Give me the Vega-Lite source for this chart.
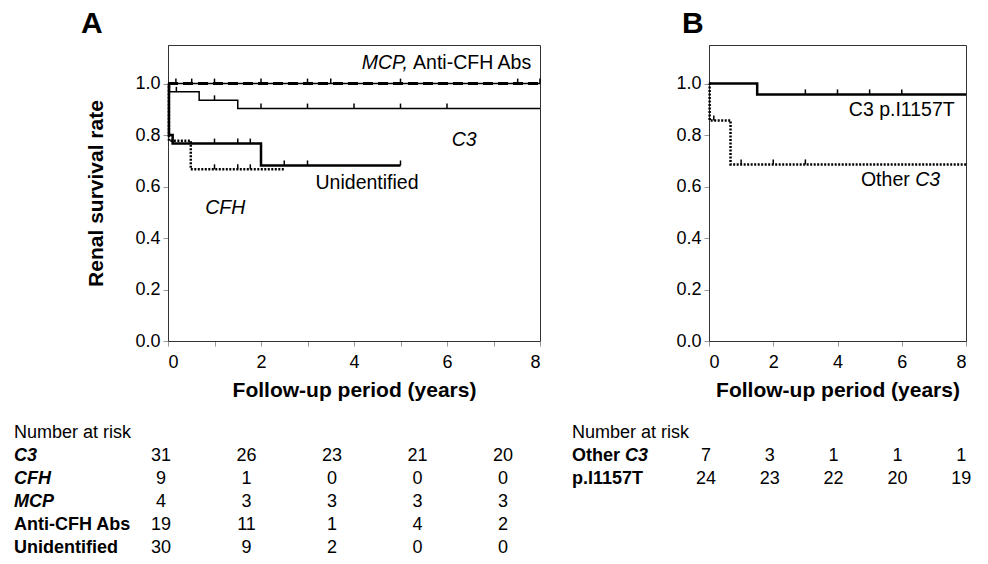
{
  "$schema": "https://vega.github.io/schema/vega-lite/v6.json",
  "padding": {"left": 13, "top": 8, "right": 0, "bottom": 0},
  "background": "white",
  "config": {
    "font": "Liberation Sans",
    "view": {"stroke": "#333", "strokeWidth": 1},
    "axis": {
      "grid": false, "domainColor": "#333", "tickColor": "#999", "tickSize": 5,
      "labelFontSize": 18, "labelColor": "#000", "labelPadding": 3,
      "titleFontSize": 21, "titleFontWeight": "bold", "titleColor": "#000"
    },
    "text": {"font": "Liberation Sans", "color": "#000"}
  },
  "datasets": {
    "kmA": [
      {"series": "C3", "t": 0, "s": 1}, {"series": "C3", "t": 0.03, "s": 0.968}, {"series": "C3", "t": 0.67, "s": 0.935}, {"series": "C3", "t": 1.5, "s": 0.903}, {"series": "C3", "t": 8, "s": 0.903},
      {"series": "CFH", "t": 0, "s": 1}, {"series": "CFH", "t": 0.02, "s": 0.778}, {"series": "CFH", "t": 0.49, "s": 0.667}, {"series": "CFH", "t": 2.5, "s": 0.667},
      {"series": "MCP", "t": 0, "s": 1}, {"series": "MCP", "t": 8, "s": 1},
      {"series": "Anti-CFH Abs", "t": 0, "s": 1}, {"series": "Anti-CFH Abs", "t": 8, "s": 1},
      {"series": "Unidentified", "t": 0, "s": 1}, {"series": "Unidentified", "t": 0.02, "s": 0.8}, {"series": "Unidentified", "t": 0.1, "s": 0.767}, {"series": "Unidentified", "t": 2.0, "s": 0.682}, {"series": "Unidentified", "t": 5.0, "s": 0.682}
    ],
    "censorA": [
      {"series": "Anti-CFH Abs", "t": 0.17, "s": 1}, {"series": "Anti-CFH Abs", "t": 0.51, "s": 1}, {"series": "Anti-CFH Abs", "t": 1.0, "s": 1}, {"series": "Anti-CFH Abs", "t": 2.0, "s": 1}, {"series": "Anti-CFH Abs", "t": 3.0, "s": 1}, {"series": "Anti-CFH Abs", "t": 3.5, "s": 1}, {"series": "Anti-CFH Abs", "t": 5.0, "s": 1}, {"series": "Anti-CFH Abs", "t": 7.52, "s": 1}, {"series": "Anti-CFH Abs", "t": 8.0, "s": 1},
      {"series": "C3", "t": 0.18, "s": 0.968}, {"series": "C3", "t": 1.0, "s": 0.935}, {"series": "C3", "t": 2.0, "s": 0.903}, {"series": "C3", "t": 3.0, "s": 0.903}, {"series": "C3", "t": 4.0, "s": 0.903}, {"series": "C3", "t": 5.0, "s": 0.903}, {"series": "C3", "t": 6.0, "s": 0.903},
      {"series": "Unidentified", "t": 1.0, "s": 0.767}, {"series": "Unidentified", "t": 1.5, "s": 0.767}, {"series": "Unidentified", "t": 1.77, "s": 0.767}, {"series": "Unidentified", "t": 2.5, "s": 0.682}, {"series": "Unidentified", "t": 3.0, "s": 0.682}, {"series": "Unidentified", "t": 5.0, "s": 0.682},
      {"series": "CFH", "t": 1.0, "s": 0.667}, {"series": "CFH", "t": 1.5, "s": 0.667}, {"series": "CFH", "t": 1.77, "s": 0.667}
    ],
    "kmB": [
      {"series": "C3 p.I1157T", "t": 0, "s": 1}, {"series": "C3 p.I1157T", "t": 1.5, "s": 0.958}, {"series": "C3 p.I1157T", "t": 8, "s": 0.958},
      {"series": "Other C3", "t": 0, "s": 1}, {"series": "Other C3", "t": 0.02, "s": 0.857}, {"series": "Other C3", "t": 0.67, "s": 0.686}, {"series": "Other C3", "t": 8, "s": 0.686}
    ],
    "censorB": [
      {"series": "C3 p.I1157T", "t": 3.0, "s": 0.958}, {"series": "C3 p.I1157T", "t": 4.0, "s": 0.958}, {"series": "C3 p.I1157T", "t": 5.0, "s": 0.958}, {"series": "C3 p.I1157T", "t": 6.0, "s": 0.958},
      {"series": "Other C3", "t": 0.15, "s": 0.857}, {"series": "Other C3", "t": 1.0, "s": 0.686}, {"series": "Other C3", "t": 2.0, "s": 0.686}, {"series": "Other C3", "t": 3.0, "s": 0.686}
    ],
    "riskA": [
      {"group": "C3", "t": 0, "n": 31}, {"group": "C3", "t": 2, "n": 26}, {"group": "C3", "t": 4, "n": 23}, {"group": "C3", "t": 6, "n": 21}, {"group": "C3", "t": 8, "n": 20},
      {"group": "CFH", "t": 0, "n": 9}, {"group": "CFH", "t": 2, "n": 1}, {"group": "CFH", "t": 4, "n": 0}, {"group": "CFH", "t": 6, "n": 0}, {"group": "CFH", "t": 8, "n": 0},
      {"group": "MCP", "t": 0, "n": 4}, {"group": "MCP", "t": 2, "n": 3}, {"group": "MCP", "t": 4, "n": 3}, {"group": "MCP", "t": 6, "n": 3}, {"group": "MCP", "t": 8, "n": 3},
      {"group": "Anti-CFH Abs", "t": 0, "n": 19}, {"group": "Anti-CFH Abs", "t": 2, "n": 11}, {"group": "Anti-CFH Abs", "t": 4, "n": 1}, {"group": "Anti-CFH Abs", "t": 6, "n": 4}, {"group": "Anti-CFH Abs", "t": 8, "n": 2},
      {"group": "Unidentified", "t": 0, "n": 30}, {"group": "Unidentified", "t": 2, "n": 9}, {"group": "Unidentified", "t": 4, "n": 2}, {"group": "Unidentified", "t": 6, "n": 0}, {"group": "Unidentified", "t": 8, "n": 0}
    ],
    "riskB": [
      {"group": "Other C3", "t": 0, "n": 7}, {"group": "Other C3", "t": 2, "n": 3}, {"group": "Other C3", "t": 4, "n": 1}, {"group": "Other C3", "t": 6, "n": 1}, {"group": "Other C3", "t": 8, "n": 1},
      {"group": "p.I1157T", "t": 0, "n": 24}, {"group": "p.I1157T", "t": 2, "n": 23}, {"group": "p.I1157T", "t": 4, "n": 22}, {"group": "p.I1157T", "t": 6, "n": 20}, {"group": "p.I1157T", "t": 8, "n": 19}
    ],
    "groupsA": [{"group": "Number at risk"}, {"group": "C3"}, {"group": "CFH"}, {"group": "MCP"}, {"group": "Anti-CFH Abs"}, {"group": "Unidentified"}],
    "groupsB": [{"group": "Number at risk"}, {"group": "Other C3"}, {"group": "p.I1157T"}],
    "notes": [{"label": "MCP,"}, {"label": "Anti-CFH Abs"}, {"label": "C3"}, {"label": "Unidentified"}, {"label": "CFH"}, {"label": "C3 p.I1157T"}, {"label": "Other"}]
  },
  "hconcat": [
    {
      "spacing": 20,
      "vconcat": [
        {
          "width": 372, "height": 296,
          "title": {"text": "A", "anchor": "start", "frame": "group", "dx": -87, "fontSize": 30, "fontWeight": "bold", "offset": 6, "color": "#000"},
          "layer": [
            {"data": {"name": "kmA"}, "transform": [{"filter": "datum.series == 'MCP'"}], "mark": {"type": "line", "interpolate": "step-after", "color": "#000", "strokeWidth": 1.5},
             "encoding": {
              "x": {"field": "t", "type": "quantitative", "scale": {"domain": [0, 8], "nice": false},
                "axis": {"title": "Follow-up period (years)", "values": [0, 1, 2, 3, 4, 5, 6, 7, 8], "labelExpr": "datum.value % 2 == 0 ? datum.label : ''", "labelPadding": 7, "titlePadding": 8}},
              "y": {"field": "s", "type": "quantitative", "scale": {"domain": [0, 1.15], "nice": false},
                "axis": {"title": "Renal survival rate", "values": [0, 0.1, 0.2, 0.3, 0.4, 0.5, 0.6, 0.7, 0.8, 0.9, 1.0, 1.1], "labelExpr": "(abs(datum.value*10 - round(datum.value*5)*2) < 0.01 && datum.value < 1.05) ? format(datum.value, '.1f') : ''", "titlePadding": 28}}
             }},
            {"data": {"name": "kmA"}, "transform": [{"filter": "datum.series == 'Anti-CFH Abs'"}], "mark": {"type": "line", "interpolate": "step-after", "color": "#000", "strokeWidth": 3, "strokeDash": [10, 5]},
             "encoding": {"x": {"field": "t", "type": "quantitative"}, "y": {"field": "s", "type": "quantitative"}}},
            {"data": {"name": "kmA"}, "transform": [{"filter": "datum.series == 'C3'"}], "mark": {"type": "line", "interpolate": "step-after", "color": "#000", "strokeWidth": 1.5},
             "encoding": {"x": {"field": "t", "type": "quantitative"}, "y": {"field": "s", "type": "quantitative"}}},
            {"data": {"name": "kmA"}, "transform": [{"filter": "datum.series == 'Unidentified'"}], "mark": {"type": "line", "interpolate": "step-after", "color": "#000", "strokeWidth": 2.5},
             "encoding": {"x": {"field": "t", "type": "quantitative"}, "y": {"field": "s", "type": "quantitative"}}},
            {"data": {"name": "kmA"}, "transform": [{"filter": "datum.series == 'CFH'"}], "mark": {"type": "line", "interpolate": "step-after", "color": "#000", "strokeWidth": 2.5, "strokeDash": [2, 1.5]},
             "encoding": {"x": {"field": "t", "type": "quantitative"}, "y": {"field": "s", "type": "quantitative"}}},
            {"data": {"name": "censorA"}, "mark": {"type": "point", "shape": "M0,-1L0,0", "size": 100, "filled": false, "stroke": "#000", "strokeWidth": 1.5, "opacity": 1},
             "encoding": {"x": {"field": "t", "type": "quantitative"}, "y": {"field": "s", "type": "quantitative"}}},
            {"data": {"name": "notes"}, "transform": [{"filter": "datum.label == 'MCP,'"}], "mark": {"type": "text", "align": "right", "baseline": "middle", "fontSize": 19.5, "fontStyle": "italic"},
             "encoding": {"x": {"datum": 5.16, "type": "quantitative"}, "y": {"datum": 1.08, "type": "quantitative"}, "text": {"field": "label"}}},
            {"data": {"name": "notes"}, "transform": [{"filter": "datum.label == 'Anti-CFH Abs'"}], "mark": {"type": "text", "align": "left", "baseline": "middle", "fontSize": 19.5},
             "encoding": {"x": {"datum": 5.27, "type": "quantitative"}, "y": {"datum": 1.08, "type": "quantitative"}, "text": {"field": "label"}}},
            {"data": {"name": "notes"}, "transform": [{"filter": "datum.label == 'C3'"}], "mark": {"type": "text", "align": "center", "baseline": "middle", "fontSize": 19.5, "fontStyle": "italic"},
             "encoding": {"x": {"datum": 6.37, "type": "quantitative"}, "y": {"datum": 0.78, "type": "quantitative"}, "text": {"field": "label"}}},
            {"data": {"name": "notes"}, "transform": [{"filter": "datum.label == 'Unidentified'"}], "mark": {"type": "text", "align": "center", "baseline": "middle", "fontSize": 19.5},
             "encoding": {"x": {"datum": 4.28, "type": "quantitative"}, "y": {"datum": 0.614, "type": "quantitative"}, "text": {"field": "label"}}},
            {"data": {"name": "notes"}, "transform": [{"filter": "datum.label == 'CFH'"}], "mark": {"type": "text", "align": "center", "baseline": "middle", "fontSize": 19.5, "fontStyle": "italic"},
             "encoding": {"x": {"datum": 1.23, "type": "quantitative"}, "y": {"datum": 0.517, "type": "quantitative"}, "text": {"field": "label"}}}
          ]
        },
        {
          "width": 372, "height": 138,
          "view": {"stroke": null},
          "encoding": {
            "y": {"field": "group", "type": "nominal", "scale": {"type": "point", "padding": 0.5, "domain": ["Number at risk", "C3", "CFH", "MCP", "Anti-CFH Abs", "Unidentified"]}, "axis": null}
          },
          "layer": [
            {"data": {"name": "groupsA"}, "transform": [{"filter": "datum.group == 'Number at risk'"}], "mark": {"type": "text", "align": "left", "baseline": "middle", "fontSize": 18}, "encoding": {"x": {"datum": -3.44, "type": "quantitative", "scale": {"domain": [0.164, 8.866], "nice": false, "zero": false}, "axis": null}, "text": {"field": "group"}}},
            {"data": {"name": "groupsA"}, "transform": [{"filter": "indexof(['C3','CFH','MCP'], datum.group) >= 0"}], "mark": {"type": "text", "align": "left", "baseline": "middle", "fontSize": 18, "fontWeight": "bold", "fontStyle": "italic"}, "encoding": {"x": {"datum": -3.44, "type": "quantitative"}, "text": {"field": "group"}}},
            {"data": {"name": "groupsA"}, "transform": [{"filter": "indexof(['Anti-CFH Abs','Unidentified'], datum.group) >= 0"}], "mark": {"type": "text", "align": "left", "baseline": "middle", "fontSize": 18, "fontWeight": "bold"}, "encoding": {"x": {"datum": -3.44, "type": "quantitative"}, "text": {"field": "group"}}},
            {"data": {"name": "riskA"}, "mark": {"type": "text", "align": "center", "baseline": "middle", "fontSize": 18}, "encoding": {"x": {"field": "t", "type": "quantitative"}, "text": {"field": "n"}}}
          ]
        }
      ]
    },
    {
      "spacing": 20,
      "vconcat": [
        {
          "width": 257, "height": 296,
          "title": {"text": "B", "anchor": "start", "frame": "group", "dx": -27, "fontSize": 30, "fontWeight": "bold", "offset": 6, "color": "#000"},
          "layer": [
            {"data": {"name": "kmB"}, "transform": [{"filter": "datum.series == 'C3 p.I1157T'"}], "mark": {"type": "line", "interpolate": "step-after", "color": "#000", "strokeWidth": 2.5},
             "encoding": {
              "x": {"field": "t", "type": "quantitative", "scale": {"domain": [0, 8], "nice": false},
                "axis": {"title": "Follow-up period (years)", "values": [0, 1, 2, 3, 4, 5, 6, 7, 8], "labelExpr": "datum.value % 2 == 0 ? datum.label : ''", "labelPadding": 7, "titlePadding": 8}},
              "y": {"field": "s", "type": "quantitative", "scale": {"domain": [0, 1.15], "nice": false},
                "axis": {"title": null, "values": [0, 0.1, 0.2, 0.3, 0.4, 0.5, 0.6, 0.7, 0.8, 0.9, 1.0, 1.1], "labelExpr": "(abs(datum.value*10 - round(datum.value*5)*2) < 0.01 && datum.value < 1.05) ? format(datum.value, '.1f') : ''"}}
             }},
            {"data": {"name": "kmB"}, "transform": [{"filter": "datum.series == 'Other C3'"}], "mark": {"type": "line", "interpolate": "step-after", "color": "#000", "strokeWidth": 2.5, "strokeDash": [2, 1.5]},
             "encoding": {"x": {"field": "t", "type": "quantitative"}, "y": {"field": "s", "type": "quantitative"}}},
            {"data": {"name": "censorB"}, "mark": {"type": "point", "shape": "M0,-1L0,0", "size": 100, "filled": false, "stroke": "#000", "strokeWidth": 1.5, "opacity": 1},
             "encoding": {"x": {"field": "t", "type": "quantitative"}, "y": {"field": "s", "type": "quantitative"}}},
            {"data": {"name": "notes"}, "transform": [{"filter": "datum.label == 'C3 p.I1157T'"}], "mark": {"type": "text", "align": "center", "baseline": "middle", "fontSize": 19.5},
             "encoding": {"x": {"datum": 6.0, "type": "quantitative"}, "y": {"datum": 0.897, "type": "quantitative"}, "text": {"field": "label"}}},
            {"data": {"name": "notes"}, "transform": [{"filter": "datum.label == 'Other'"}], "mark": {"type": "text", "align": "left", "baseline": "middle", "fontSize": 19.5},
             "encoding": {"x": {"datum": 4.73, "type": "quantitative"}, "y": {"datum": 0.625, "type": "quantitative"}, "text": {"field": "label"}}},
            {"data": {"name": "notes"}, "transform": [{"filter": "datum.label == 'C3'"}], "mark": {"type": "text", "align": "left", "baseline": "middle", "fontSize": 19.5, "fontStyle": "italic"},
             "encoding": {"x": {"datum": 6.42, "type": "quantitative"}, "y": {"datum": 0.625, "type": "quantitative"}, "text": {"field": "label"}}}
          ]
        },
        {
          "width": 257, "height": 69,
          "view": {"stroke": null},
          "encoding": {
            "y": {"field": "group", "type": "nominal", "scale": {"type": "point", "padding": 0.5, "domain": ["Number at risk", "Other C3", "p.I1157T"]}, "axis": null}
          },
          "layer": [
            {"data": {"name": "groupsB"}, "transform": [{"filter": "datum.group == 'Number at risk'"}], "mark": {"type": "text", "align": "left", "baseline": "middle", "fontSize": 18}, "encoding": {"x": {"datum": -4.2, "type": "quantitative", "scale": {"domain": [0.094, 8.15], "nice": false, "zero": false}, "axis": null}, "text": {"field": "group"}}},
            {"data": {"name": "groupsB"}, "transform": [{"filter": "datum.group == 'Other C3'"}], "mark": {"type": "text", "align": "left", "baseline": "middle", "fontSize": 18, "fontWeight": "bold", "text": "Other"}, "encoding": {"x": {"datum": -4.2, "type": "quantitative"}}},
            {"data": {"name": "groupsB"}, "transform": [{"filter": "datum.group == 'Other C3'"}], "mark": {"type": "text", "align": "left", "baseline": "middle", "fontSize": 18, "fontWeight": "bold", "fontStyle": "italic", "text": "C3", "dx": 53}, "encoding": {"x": {"datum": -4.2, "type": "quantitative"}}},
            {"data": {"name": "groupsB"}, "transform": [{"filter": "datum.group == 'p.I1157T'"}], "mark": {"type": "text", "align": "left", "baseline": "middle", "fontSize": 18, "fontWeight": "bold"}, "encoding": {"x": {"datum": -4.2, "type": "quantitative"}, "text": {"field": "group"}}},
            {"data": {"name": "riskB"}, "mark": {"type": "text", "align": "center", "baseline": "middle", "fontSize": 18}, "encoding": {"x": {"field": "t", "type": "quantitative"}, "text": {"field": "n"}}}
          ]
        }
      ]
    }
  ],
  "spacing": 25
}
